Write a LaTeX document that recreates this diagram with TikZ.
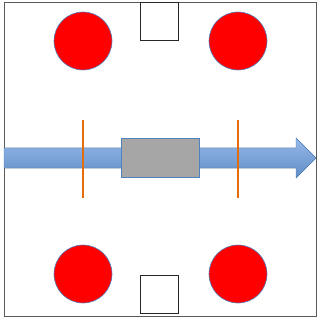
\documentclass[tikz,border=0pt]{standalone}
\usepackage{tikz}
\usetikzlibrary{arrows,shapes}
\definecolor{pblue}{HTML}{4F81BD}
\definecolor{lblue}{HTML}{95B8EA}
\definecolor{porange}{HTML}{E46C0A}
\tikzstyle{ball}=[circle,draw=pblue,fill=red,line width=0.6pt,minimum size=58pt,inner sep=0pt]
\tikzstyle{port}=[rectangle,draw=black!85,fill=white,line width=0.9pt,minimum size=38pt,inner sep=0pt]
\tikzstyle{sample}=[rectangle,draw=pblue,fill=black!35,line width=0.6pt,minimum width=78pt,minimum height=39pt,inner sep=0pt]
\tikzstyle{cut}=[porange,line width=1.2pt]

\begin{document}
\begin{tikzpicture}[x=1pt,y=-1pt]
\useasboundingbox (0,0) rectangle (320,320);
\draw[black!65,line width=1pt] (4,3) rectangle (316,316);
\coordinate (W) at (4,158);\coordinate (E) at (316,158);
\filldraw[draw=pblue,line width=0.4pt,top color=lblue,bottom color=pblue!90] (4,148)--(296,148)--(296,138)--(316,158)--(296,178)--(296,168)--(4,168)--cycle;
\node[port] (Pt) at (159.5,21.5) {};
\node[port] (Pb) at (159.5,294) {};
\node[ball] (TL) at (83,41) {};
\node[ball] (TR) at (238,41) {};
\node[ball] (BL) at (83,274) {};
\node[ball] (BR) at (238,274) {};
\node[sample] (S) at (160,157.5) {};
\coordinate (L1) at (83,120);\coordinate (L2) at (83,198);
\coordinate (R1) at (238,120);\coordinate (R2) at (238,198);
\draw[cut](L1)--(L2);\draw[cut](R1)--(R2);
\end{tikzpicture}
\end{document}
